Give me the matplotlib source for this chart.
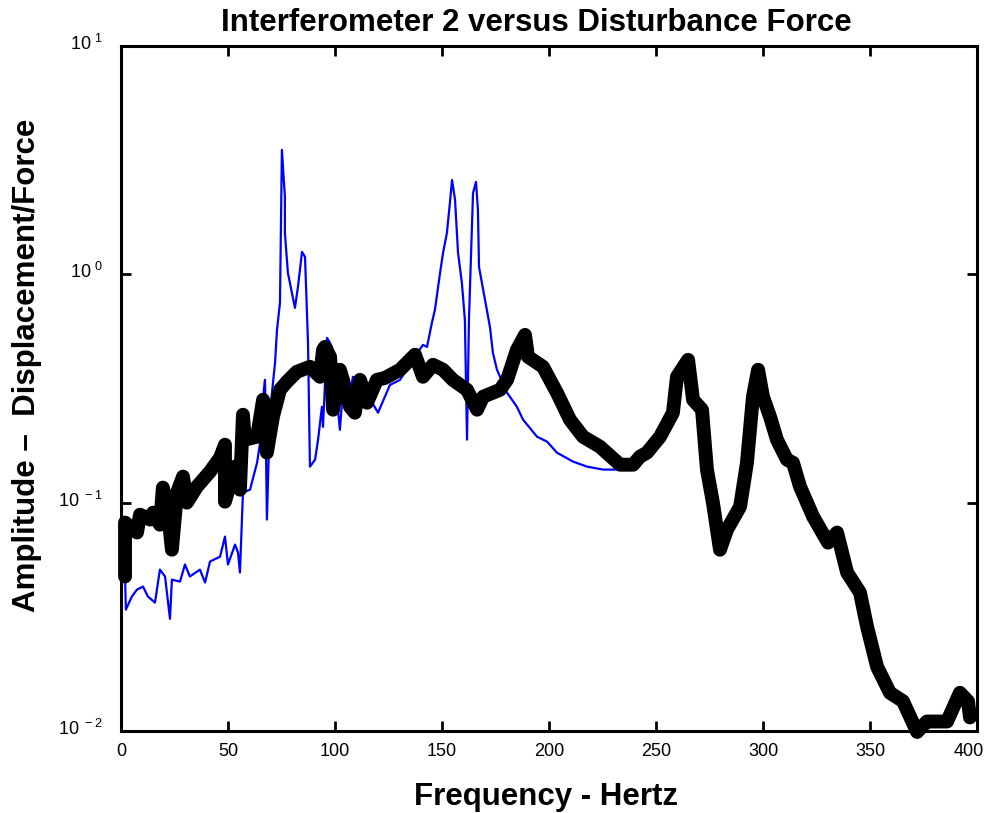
#!/usr/bin/env python3
import matplotlib
matplotlib.use("Agg")
import matplotlib.pyplot as plt
import matplotlib.transforms as mtransforms
import numpy as np

plt.rcParams['font.family'] = ['Liberation Sans', 'DejaVu Sans']
plt.rcParams['mathtext.fontset'] = 'custom'
plt.rcParams['mathtext.rm'] = 'Liberation Sans'

# thick black trace (Hz, displacement/force)
black_freq = [1.9, 1.9, 7.5, 8.9, 13.6, 15.0, 18.2, 19.6, 22.0, 23.8, 26.2, 29.0, 30.8,
              35.5, 41.6, 46.3, 48.6, 48.6, 53.3, 55.6, 57.0, 57.9, 63.6, 66.4, 68.2,
              71.0, 74.3, 77.6, 82.2, 88.3, 93.0, 94.4, 95.3, 97.7, 99.1, 102.3, 103.7,
              107.0, 109.3, 111.7, 115.0, 119.6, 123.4, 130.4, 137.4, 141.1, 145.8,
              150.5, 155.1, 161.7, 166.4, 169.2, 177.1, 180.4, 185.0, 188.8, 190.2,
              197.2, 203.7, 209.8, 215.9, 223.8, 233.2, 239.3, 242.5, 245.8, 251.9,
              257.9, 259.8, 265.0, 267.3, 271.5, 273.8, 276.6, 279.9, 283.2, 289.3,
              292.5, 295.3, 297.7, 300.0, 303.3, 306.5, 311.2, 314.0, 317.3, 323.4,
              330.4, 334.6, 339.3, 345.3, 348.6, 353.3, 359.3, 365.4, 372.0, 376.6,
              386.0, 392.0, 395.8, 396.7]
black_amp = [0.0475, 0.0818, 0.0740, 0.0886, 0.0843, 0.0904, 0.0801, 0.1164, 0.0904,
             0.0622, 0.1106, 0.130, 0.100, 0.1175, 0.1367, 0.1574, 0.1794, 0.101,
             0.1438, 0.114, 0.2427, 0.1887, 0.1945, 0.2823, 0.1656, 0.2377, 0.312,
             0.3388, 0.3743, 0.3936, 0.3558, 0.4667, 0.4808, 0.4355, 0.2553, 0.382,
             0.345, 0.263, 0.2477, 0.345, 0.274, 0.345, 0.352, 0.382, 0.4446, 0.3558,
             0.4015, 0.382, 0.345, 0.312, 0.2553, 0.291, 0.312, 0.345, 0.4667, 0.543,
             0.4355, 0.3936, 0.3031, 0.2308, 0.1945, 0.1758, 0.1466, 0.1466, 0.159,
             0.1656, 0.1945, 0.2477, 0.3558, 0.4224, 0.2823, 0.2553, 0.1396, 0.100,
             0.0622, 0.0762, 0.0961, 0.1496, 0.291, 0.382, 0.291, 0.2377, 0.1887,
             0.1542, 0.1496, 0.1175, 0.0869, 0.0668, 0.074, 0.0494, 0.0404, 0.0287,
             0.0191, 0.0147, 0.0135, 0.0099, 0.011, 0.011, 0.0147, 0.0135, 0.01146]

# thin blue trace below 233 Hz; above that it runs under the black one
blue_freq = [1.9, 2.3, 5.1, 7.5, 10.3, 12.6, 15.9, 18.2, 20.6, 22.9, 23.8, 27.6, 29.9,
             32.2, 36.9, 39.3, 41.6, 46.3, 48.6, 50.0, 53.3, 54.7, 55.6, 57.0, 60.3,
             63.6, 65.0, 66.4, 67.3, 68.2, 69.6, 72.0, 72.9, 74.3, 75.2, 76.6, 76.6,
             78.0, 81.3, 82.7, 84.6, 86.0, 87.4, 88.3, 90.7, 92.1, 93.9, 94.4, 96.3,
             98.6, 100.0, 102.3, 103.7, 105.6, 108.4, 109.3, 114.0, 120.1, 125.7,
             130.4, 136.4, 141.1, 143.0, 145.3, 146.7, 149.1, 150.5, 152.3, 153.7,
             154.7, 156.1, 157.5, 159.3, 160.7, 161.7, 162.6, 164.5, 165.9, 166.8,
             167.3, 170.1, 172.4, 173.8, 175.7, 180.4, 185.0, 187.9, 194.4, 199.1,
             203.7, 211.2, 217.8, 225.2, 231.8]
blue_amp = [0.0475, 0.034, 0.0388, 0.0416, 0.0429, 0.0388, 0.0365, 0.0509, 0.0475,
            0.031, 0.046, 0.0451, 0.0536, 0.0475, 0.0509, 0.0447, 0.0552, 0.058, 0.071,
            0.0536, 0.0655, 0.0604, 0.0494, 0.1106, 0.114, 0.1496, 0.183, 0.291, 0.345,
            0.0843, 0.2477, 0.41, 0.571, 0.75, 3.51, 2.18, 1.518, 1.015, 0.713, 0.881,
            1.254, 1.193, 0.501, 0.1438, 0.1542, 0.1887, 0.263, 0.2148, 0.527, 0.482,
            0.3558, 0.2085, 0.312, 0.2553, 0.3558, 0.291, 0.312, 0.2477, 0.328, 0.345,
            0.4224, 0.491, 0.4808, 0.614, 0.699, 1.015, 1.242, 1.518, 2.055, 2.59, 2.12,
            1.242, 0.918, 0.632, 0.1887, 0.632, 2.27, 2.54, 1.915, 1.078, 0.773, 0.589,
            0.453, 0.382, 0.303, 0.263, 0.2308, 0.1945, 0.185, 0.1656, 0.1513, 0.1438,
            0.1396, 0.1396]

xticks = [0, 50, 100, 150, 200, 250, 300, 350, 400]
yticks = [0.01, 0.1, 1, 10]
ytick_labels = [r'$\mathregular{10^{\ -2}}$', r'$\mathregular{10^{\ -1}}$',
                r'$\mathregular{10^{\ 0}}$', r'$\mathregular{10^{\ 1}}$']

bf = np.array(black_freq)
ba = np.array(black_amp)
tail = bf > blue_freq[-1]
blue_f = np.concatenate([blue_freq, bf[tail]])
blue_a = np.concatenate([blue_amp, ba[tail]])

fig = plt.figure(figsize=(9.85, 8.13), dpi=100)
ax = fig.add_axes([0.1228, 0.1009, 0.8691, 0.8425])

ax.plot(blue_f, blue_a, color='#0000ff', lw=1.6, zorder=2)
ax.plot(bf, ba, color='black', lw=10, solid_joinstyle='round',
        solid_capstyle='round', zorder=3, clip_on=False)

ax.set_yscale('log')
ax.set_xlim(0, 400)
ax.set_ylim(0.01, 10)
ax.set_xticks(xticks)
ax.set_yticks(yticks)
ax.set_yticklabels(ytick_labels)
ax.yaxis.set_minor_locator(matplotlib.ticker.NullLocator())
ax.tick_params(direction='in', length=7, width=2, top=True, right=True,
               labelsize=13)
ax.tick_params(axis='x', pad=9)
ax.tick_params(axis='y', pad=13)
for s in ax.spines.values():
    s.set_linewidth(2.2)

# y labels sit a little above their ticks
for lab in ax.get_yticklabels():
    lab.set_transform(lab.get_transform() +
                      mtransforms.ScaledTranslation(0, 4 / 100, fig.dpi_scale_trans))

# last x label sits slightly left of its tick, inside the figure
last = ax.get_xticklabels()[-1]
last.set_transform(last.get_transform() +
                   mtransforms.ScaledTranslation(-8 / 100, 0, fig.dpi_scale_trans))

fig.text(0.545, 0.972, 'Interferometer 2 versus Disturbance Force', ha='center',
         va='center', fontsize=22.5, fontweight='bold')
fig.text(0.554, 0.020, 'Frequency - Hertz', ha='center', va='center',
         fontsize=22.5, fontweight='bold')
fig.text(0.027, 0.551, 'Amplitude \u2013  Displacement/Force', ha='center',
         va='center', rotation=90, fontsize=22.5, fontweight='bold')

fig.savefig('out.png', dpi=100)
